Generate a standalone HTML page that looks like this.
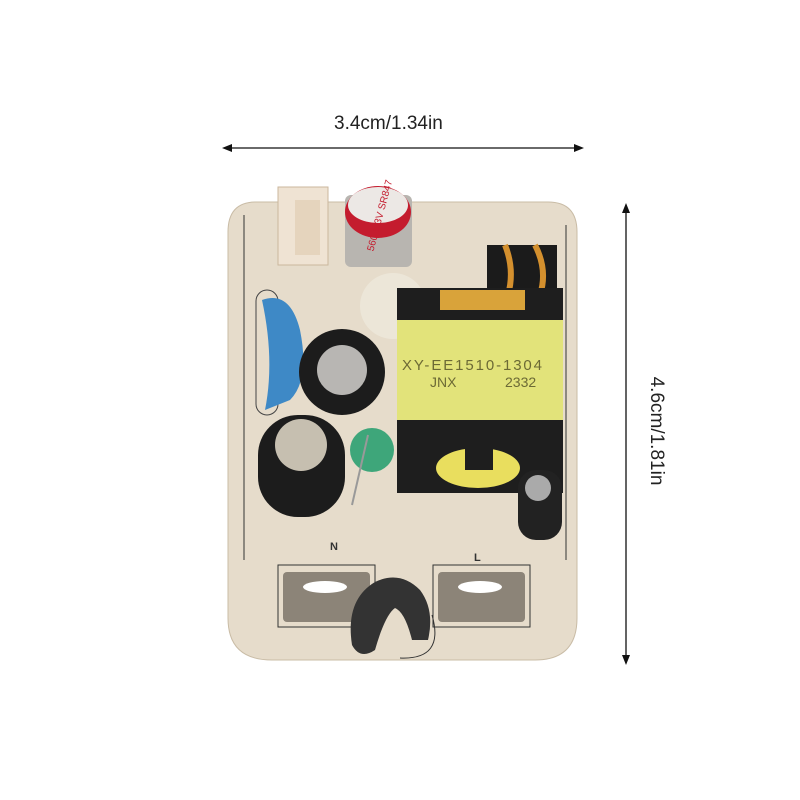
<!DOCTYPE html><html><head><style>
body{margin:0;width:800px;height:800px;background:#fff;position:relative;overflow:hidden;font-family:"Liberation Sans",sans-serif}
.a{position:absolute}
</style></head><body>
<div class="a" style="left:334px;top:113px;font-size:19px;color:#222">3.4cm/1.34in</div>
<div class="a" style="left:596px;top:420px;font-size:19px;color:#222;transform:rotate(90deg);transform-origin:center;width:120px;text-align:center;">4.6cm/1.81in</div>
<svg class="a" style="left:0;top:0" width="800" height="800">
<line x1="228" y1="148" x2="578" y2="148" stroke="#111" stroke-width="1.3"/>
<polygon points="222,148 232,144 232,152" fill="#111"/><polygon points="584,148 574,144 574,152" fill="#111"/>
<line x1="626" y1="210" x2="626" y2="658" stroke="#111" stroke-width="1.3"/>
<polygon points="626,203 622,213 630,213" fill="#111"/><polygon points="626,665 622,655 630,655" fill="#111"/>
<path d="M256,202 H548 Q577,202 577,232 V618 Q577,660 535,660 H272 Q228,660 228,618 V232 Q228,202 256,202Z" fill="#e6dccb" stroke="#c9bca6"/>
<line x1="244" y1="215" x2="244" y2="560" stroke="#333" stroke-width="1"/>
<line x1="566" y1="225" x2="566" y2="560" stroke="#333" stroke-width="1"/>
<rect x="256" y="290" width="22" height="125" rx="11" fill="none" stroke="#444"/>
<ellipse cx="393" cy="306" rx="33" ry="33" fill="#ece6d8"/>
<rect x="278" y="187" width="50" height="78" fill="#efe3d3" stroke="#cbb79e"/>
<rect x="295" y="200" width="25" height="55" fill="#e5d4bd"/>
<rect x="345" y="195" width="67" height="72" rx="6" fill="#b8b5b0"/>
<ellipse cx="378" cy="212" rx="33" ry="26" fill="#c41c2e"/>
<ellipse cx="378" cy="205" rx="30" ry="18" fill="#ece8e5"/>
<text x="378" y="220" font-size="10" fill="#c41c2e" text-anchor="middle" transform="rotate(-75 378 215)">560 6.3V SR847</text>
<rect x="487" y="245" width="70" height="45" fill="#1b1b1b"/>
<path d="M505,245 Q515,270 508,295 M535,245 Q548,270 540,295" stroke="#d4902e" stroke-width="6" fill="none"/>
<rect x="397" y="288" width="166" height="205" fill="#1e1e1e"/>
<rect x="440" y="290" width="85" height="20" fill="#d9a33a"/>
<rect x="397" y="320" width="166" height="100" fill="#e2e37a"/>
<text x="402" y="370" font-size="15" fill="#6c6a35" textLength="140">XY-EE1510-1304</text>
<text x="430" y="387" font-size="14" fill="#6c6a35">JNX</text>
<text x="505" y="387" font-size="14" fill="#6c6a35">2332</text>
<ellipse cx="478" cy="468" rx="42" ry="20" fill="#e9de5e"/>
<rect x="465" y="440" width="28" height="30" fill="#1e1e1e"/>
<path d="M262,300 Q290,290 300,330 Q310,380 290,400 L265,410 Q275,360 262,300Z" fill="#3e89c6"/>
<circle cx="342" cy="372" r="43" fill="#1c1c1c"/>
<circle cx="342" cy="370" r="25" fill="#b8b6b3"/>
<rect x="258" y="415" width="87" height="102" rx="40" fill="#1c1c1c"/>
<circle cx="301" cy="445" r="26" fill="#c6bfb0"/>
<circle cx="372" cy="450" r="22" fill="#3ea67a"/>
<line x1="368" y1="435" x2="352" y2="505" stroke="#999" stroke-width="2"/>
<rect x="518" y="470" width="44" height="70" rx="18" fill="#222"/>
<circle cx="538" cy="488" r="13" fill="#aaa"/>
<text x="330" y="550" font-size="11" font-weight="bold" fill="#333">N</text>
<text x="474" y="561" font-size="11" font-weight="bold" fill="#333">L</text>
<rect x="278" y="565" width="97" height="62" fill="none" stroke="#333"/>
<rect x="433" y="565" width="97" height="62" fill="none" stroke="#333"/>
<rect x="283" y="572" width="87" height="50" rx="4" fill="#8c8478"/>
<rect x="438" y="572" width="87" height="50" rx="4" fill="#8c8478"/>
<ellipse cx="325" cy="587" rx="22" ry="6" fill="#fff"/>
<ellipse cx="480" cy="587" rx="22" ry="6" fill="#fff"/>
<path d="M352,645 Q345,600 375,582 Q400,570 420,590 Q435,610 428,640 L412,640 Q405,612 395,608 Q385,615 375,650 Q360,660 352,645Z" fill="#333"/>
<path d="M432,615 Q445,660 400,658" stroke="#333" fill="none"/>
</svg>
</body></html>
